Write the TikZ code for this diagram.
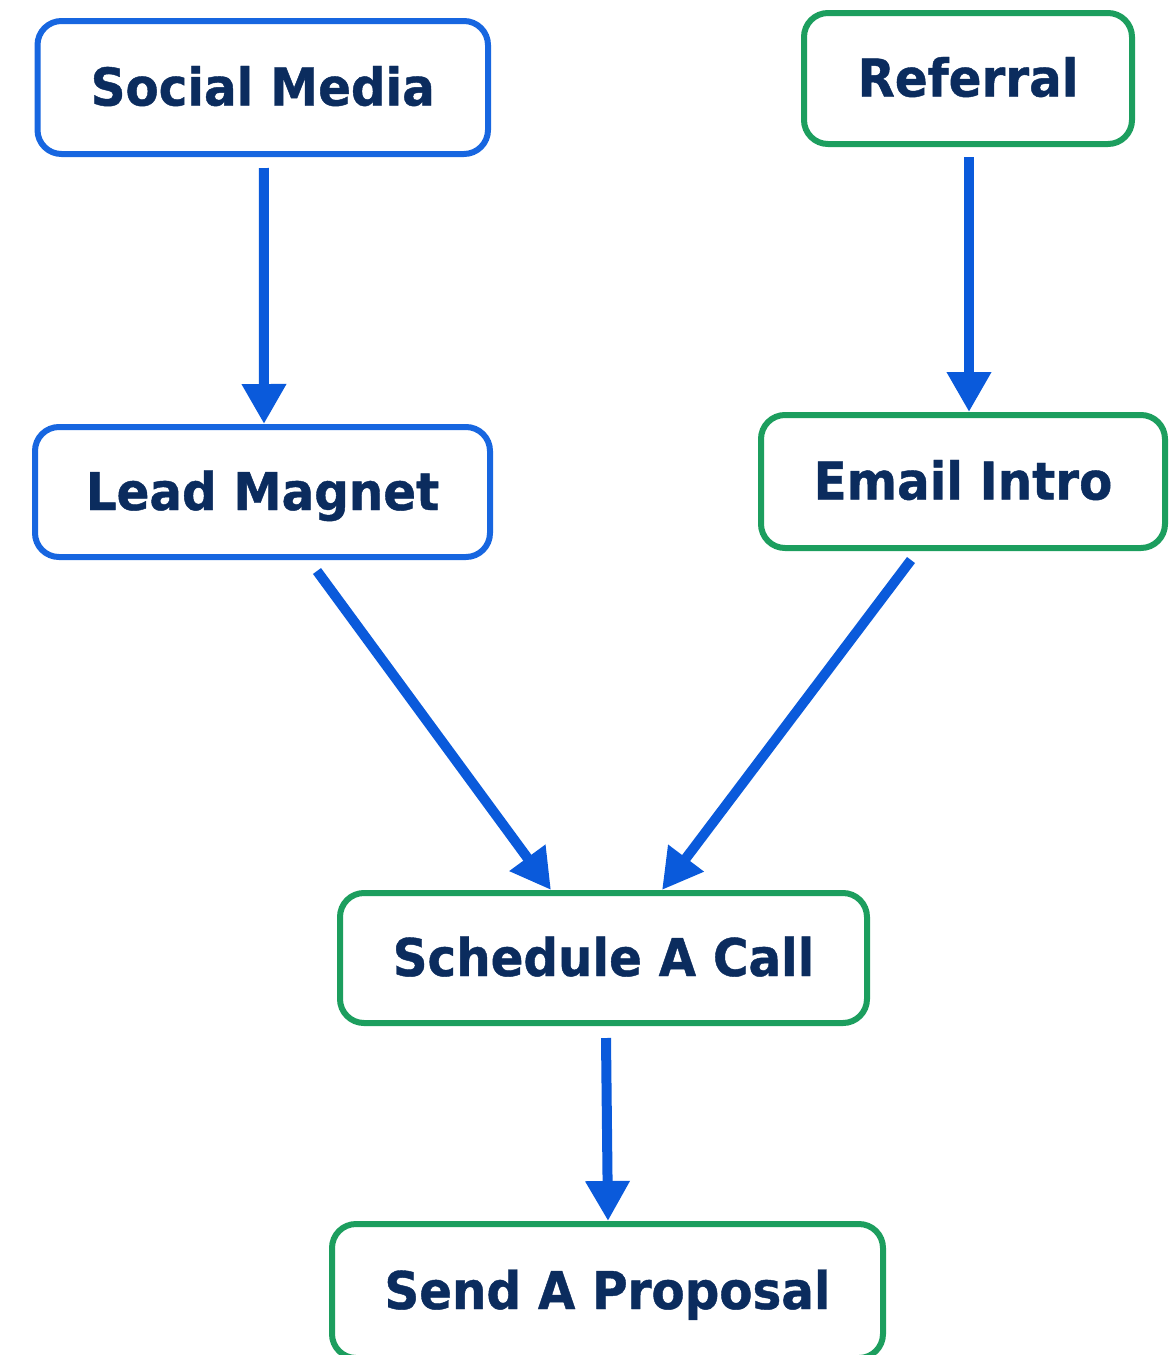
\documentclass[tikz,border=0pt]{standalone}
\usepackage{fontspec}
\setmainfont{DejaVu Sans}[BoldFeatures={FakeStretch=0.93,FakeBold=0.8}]
\usetikzlibrary{arrows.meta}
\definecolor{boxblue}{HTML}{1766E0}
\definecolor{arrblue}{HTML}{0A5ADB}
\definecolor{boxgreen}{HTML}{1C9E5E}
\definecolor{txtnavy}{HTML}{0B2C5E}
\tikzset{
  stepbox/.style={draw, line width=6pt, rounded corners=24pt, fill=white,
    text=txtnavy, font=\fontsize{52}{60}\selectfont\bfseries, inner sep=0pt,
    text height=36pt, text depth=0pt},
  bluebox/.style={stepbox, draw=boxblue},
  greenbox/.style={stepbox, draw=boxgreen},
  arr/.style={draw=arrblue, line width=10pt,
    -{Triangle[length=40pt,width=42pt]}}
}
\begin{document}
\begin{tikzpicture}[x=1pt,y=-1pt]
\useasboundingbox (0,0) rectangle (1169,1355);
\clip (0,0) rectangle (1169,1355);
\node[bluebox, minimum width=450.5pt, minimum height=133pt] (sm) at (262.75,87.5) {Social Media};
\node[greenbox, minimum width=328pt, minimum height=131pt] (ref) at (968,78.5) {Referral};
\node[bluebox, minimum width=455pt, minimum height=130pt] (lm) at (262.5,492) {Lead Magnet};
\node[greenbox, minimum width=404pt, minimum height=133pt] (ei) at (963,481.5) {Email Intro};
\node[greenbox, minimum width=527pt, minimum height=130pt] (sac) at (603.5,958) {Schedule A Call};
\node[greenbox, minimum width=551pt, minimum height=134pt] (sap) at (607.5,1291) {Send A Proposal};
\draw[arr] ([xshift=1pt,yshift=-11pt]sm.south) -- ([xshift=1.5pt]lm.north);
\draw[arr] ([xshift=1pt,yshift=-10pt]ref.south) -- ([xshift=6pt]ei.north);
\draw[arr] ([xshift=54.5pt,yshift=-11pt]lm.south) -- ([xshift=-52.5pt]sac.north);
\draw[arr] ([xshift=-52pt,yshift=-9pt]ei.south) -- ([xshift=58.5pt]sac.north);
\draw[arr] ([xshift=2.5pt,yshift=-12pt]sac.south) -- ([xshift=0.5pt]sap.north);
\end{tikzpicture}
\end{document}
